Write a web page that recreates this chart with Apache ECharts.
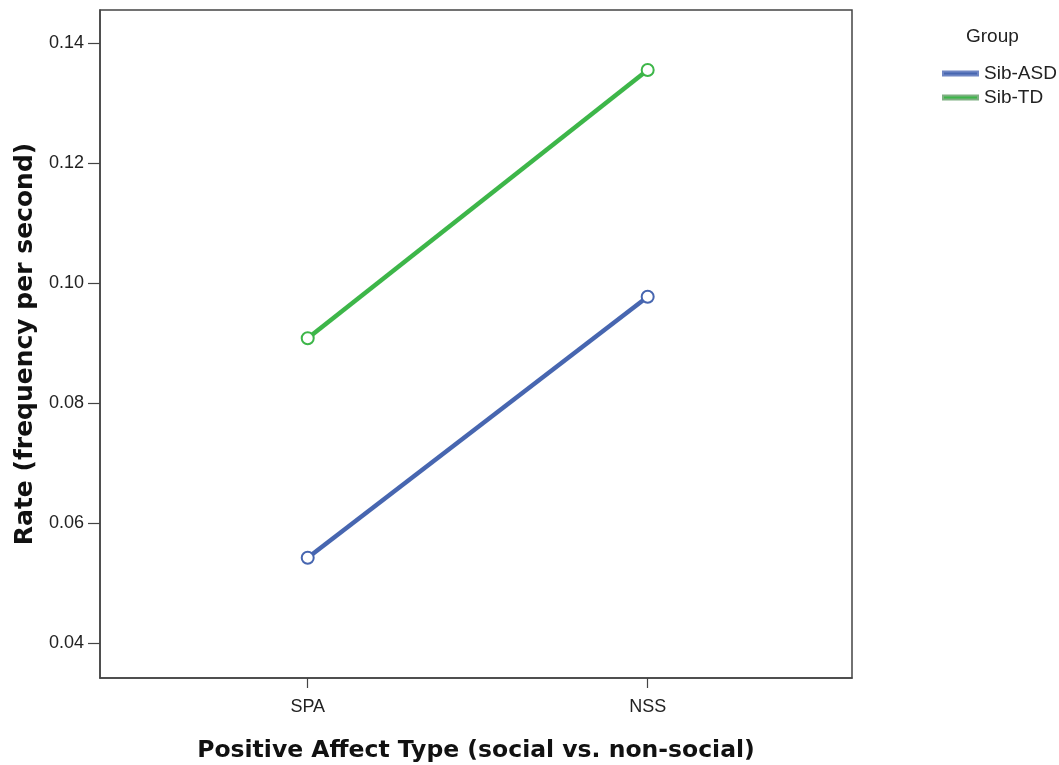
<!DOCTYPE html>
<html>
<head>
<meta charset="utf-8">
<script src="https://cdn.jsdelivr.net/npm/echarts@6/dist/echarts.min.js"></script>
<style>
html,body{margin:0;padding:0;background:#fff;}
#main{width:1059px;height:765px;}
</style>
</head>
<body>
<div id="main"></div>
<script>
var categories = ['SPA', 'NSS'];
var groupNames = ['Sib-ASD', 'Sib-TD'];
var sibAsd = [0.0542, 0.0977];
var sibTd = [0.0908, 0.1355];
var yTicks = [0.04, 0.06, 0.08, 0.10, 0.12, 0.14];

var colors = ['#4766b0', '#3db649'];

function toPoints(vals){
	var pts = [];
	for(var i=0;i<vals.length;i++){
		pts.push([i, vals[i]]);
	}
	return pts;
}

var myChart = echarts.init(document.getElementById('main'));
var axisCol = '#444';
var option = {
	animation:false,
	backgroundColor:'#fff',
	grid:{
		left:100,
		right:207,
		top:10,
		bottom:87,
		outerBoundsMode:'none',
		containLabel:false,
		show:true,
		borderColor:axisCol,
		borderWidth:1.5
	},
	legend:{
		data:groupNames,
		orient:'vertical',
		left:937,
		top:59,
		itemWidth:35,
		itemHeight:4,
		itemGap:5,
		icon:'rect',
		textStyle:{fontFamily:'Liberation Sans',fontSize:19,color:'#222',padding:[0,0,0,1]}
	},
	graphic:[{
		type:'text',
		left:966,
		top:27,
		style:{text:'Group',fontFamily:'Liberation Sans',fontSize:19,fill:'#222'}
	}],
	xAxis:{
		type:'value',
		min:-0.611,
		max:1.601,
		name:'Positive Affect Type (social vs. non-social)',
		nameLocation:'middle',
		nameGap:61,
		nameTextStyle:{fontFamily:'DejaVu Sans',fontWeight:'bold',fontSize:23.5,color:'#111'},
		axisLine:{onZero:false,lineStyle:{color:axisCol,width:1.5}},
		axisTick:{show:true,customValues:[0,1],length:10,lineStyle:{color:axisCol,width:1.2}},
		axisLabel:{
			customValues:[0,1],
			margin:20,
			fontFamily:'Liberation Sans',fontSize:18,color:'#222',
			formatter:function(v){return categories[Math.round(v)];}
		},
		splitLine:{show:false}
	},
	yAxis:{
		type:'value',
		min:0.03417,
		max:0.1455,
		name:'Rate (frequency per second)',
		nameLocation:'middle',
		nameGap:57,
		nameTextStyle:{fontFamily:'DejaVu Sans',fontWeight:'bold',fontSize:25,color:'#111'},
		axisLine:{show:true,onZero:false,lineStyle:{color:axisCol,width:1.5}},
		axisTick:{show:true,customValues:yTicks,length:12,lineStyle:{color:axisCol,width:1.2}},
		axisLabel:{
			customValues:yTicks,
			margin:16,
			fontFamily:'Liberation Sans',fontSize:18,color:'#222',
			formatter:function(v){return v.toFixed(2);}
		},
		splitLine:{show:false}
	},
	series:[{
		name:groupNames[0],
		type:'line',
		data:toPoints(sibAsd),
		symbol:'emptyCircle',
		symbolSize:12,
		color:colors[0],
		lineStyle:{width:4.5,color:colors[0]},
		itemStyle:{color:colors[0],borderColor:'#6f86c4',borderWidth:1.5}
	},{
		name:groupNames[1],
		type:'line',
		data:toPoints(sibTd),
		symbol:'emptyCircle',
		symbolSize:12,
		color:colors[1],
		lineStyle:{width:4.5,color:colors[1]},
		itemStyle:{color:colors[1],borderColor:'#7fb082',borderWidth:1.5}
	}]
};
myChart.setOption(option);
</script>
</body>
</html>
